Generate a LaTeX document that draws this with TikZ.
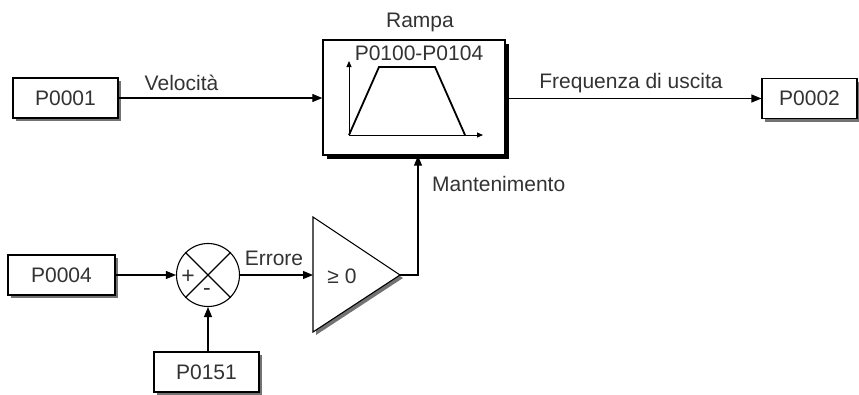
\documentclass[tikz,border=0pt]{standalone}
\usepackage{fontspec}
\setmainfont{Liberation Sans}
\usetikzlibrary{arrows.meta,shadows}
\definecolor{txt}{HTML}{333333}
\tikzset{
  pbox/.style={draw=black, line width=1.1pt, fill=white, minimum height=40pt, inner sep=0pt,
    font=\fontsize{21}{23}\selectfont, text=txt,
    drop shadow={shadow xshift=3pt, shadow yshift=-3pt, fill=black!55, opacity=1}},
  lbl/.style={font=\fontsize{21}{23}\selectfont, text=txt, inner sep=0pt},
  sgn/.style={font=\fontsize{23}{25}\selectfont, text=txt, inner sep=0pt},
  conn/.style={line width=1.1pt, -{Triangle[length=10pt,width=8pt]}},
  plain/.style={line width=1.1pt}
}
\begin{document}
\begin{tikzpicture}[x=1pt,y=-1pt]
\path[use as bounding box] (0,0) rectangle (859,394);
% parameter boxes
\node[pbox, minimum width=105pt] (p1) at (65.5,98) {P0001};
\node[pbox, minimum width=95pt] (p2) at (809.5,98.5) {P0002};
\node[pbox, minimum width=107pt] (p4) at (61.5,275) {P0004};
\node[pbox, minimum width=105pt] (p151) at (206.5,372) {P0151};
% ramp block
\fill[black] (327,44) rectangle (509,159);
\node[draw=black, line width=1.4pt, fill=white, minimum width=182pt, minimum height=115pt, inner sep=0pt] (rampa) at (414,97.5) {};
\node[lbl] (rtitle) at (420,22) {Rampa};
\node[lbl] (rpar) at (419,53) {P0100-P0104};
\coordinate (o) at (349,135);
\coordinate (ya) at (349,61);
\coordinate (xa) at (483,135);
\draw[line width=0.9pt, -{Triangle[length=6pt,width=5pt]}] (o) -- (ya);
\draw[line width=0.9pt, -{Triangle[length=6pt,width=5pt]}] (o) -- (xa);
\coordinate (t1) at (379,67);
\coordinate (t2) at (435,67);
\coordinate (t3) at (465,135);
\draw[line width=1.8pt, line join=miter] (o) -- (t1) -- (t2) -- (t3);
% summing junction
\node[circle, draw=black, line width=1.1pt, fill=white, minimum size=63pt, inner sep=0pt] (sum) at (208,275) {};
\draw[plain] (sum.north west) -- (sum.south east);
\draw[plain] (sum.north east) -- (sum.south west);
\node[sgn] (plus) at (188,277) {+};
\node[sgn] (minus) at (207,292) {-};
% comparator triangle
\coordinate (triT) at (313,217);
\coordinate (triB) at (313,332);
\coordinate (triA) at (400,275);
\coordinate (triIn) at (313,275);
\fill[black!55] ([shift={(3pt,-3pt)}]triT) -- ([shift={(3pt,-3pt)}]triB) -- ([shift={(3pt,-3pt)}]triA) -- cycle;
\filldraw[fill=white, draw=black, line width=1.1pt, line join=miter] (triT) -- (triB) -- (triA) -- cycle;
\node[lbl] (ge) at (342,276) {≥ 0};
\coordinate (bend) at (418,275);
% connectors
\draw[conn] (p1.east) -- (p1.east -| rampa.west);
\draw[conn] (rampa.east |- p2.west) -- (p2.west);
\draw[conn] (p4.east |- sum.west) -- (sum.west);
\draw[conn] (p151.north -| sum.south) -- (sum.south);
\draw[conn] (sum.east) -- (triIn);
\draw[conn] (triA) -- (bend) -- (bend |- rampa.south);
% labels
\node[lbl] (lvel) at (181.5,83) {Velocità};
\node[lbl] (lfreq) at (631,83) {Frequenza di uscita};
\node[lbl] (lerr) at (274,258) {Errore};
\node[lbl, anchor=west] (lman) at (432,184) {Mantenimento};
\end{tikzpicture}
\end{document}
